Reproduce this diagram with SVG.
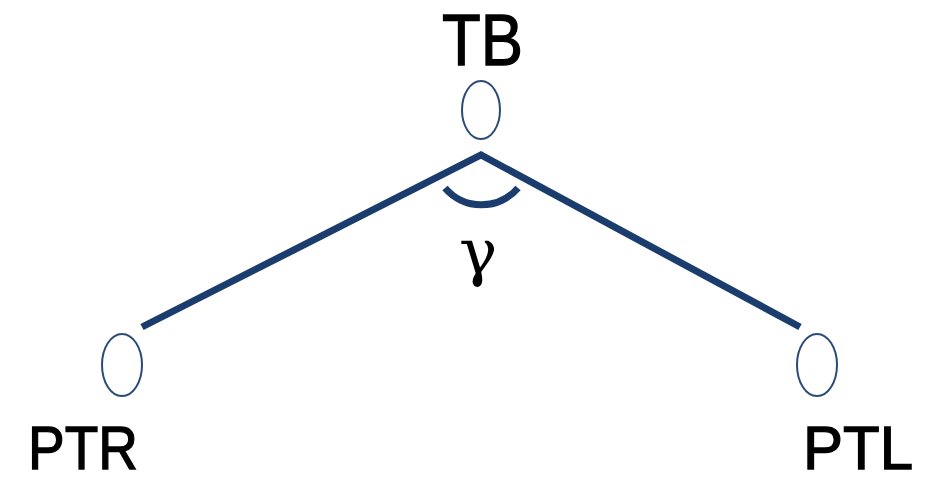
<svg xmlns="http://www.w3.org/2000/svg" width="931" height="482" viewBox="0 0 931 482">
<style>
.node{fill:none;stroke:#2a4a78;stroke-width:2}
.lbl{font-family:"Liberation Sans",Arial,sans-serif;fill:#000;stroke:#000;stroke-width:1.3}
.greek{font-family:"DejaVu Serif","Liberation Serif",serif;fill:#000}
.edge{stroke:#1b3d6e;stroke-width:7;fill:none;stroke-linecap:butt}
</style>
<rect width="931" height="482" fill="#fff"/>
<g id="connectors">
<polyline class="edge" points="142,327 481,155 800,327" stroke-linejoin="miter"/>
<path class="edge" d="M445,188 A48,48 0 0 0 518,188" stroke-width="6"/>
</g>
<text class="greek" x="478" y="274" font-size="64" text-anchor="middle">γ</text>
<g id="TB">
<ellipse class="node" cx="481" cy="110" rx="19" ry="29"/>
<text class="lbl" x="442" y="65" font-size="73" textLength="81" lengthAdjust="spacingAndGlyphs">TB</text>
</g>
<g id="PTR">
<ellipse class="node" cx="122" cy="365" rx="20" ry="31"/>
<text class="lbl" x="28" y="469" font-size="62" textLength="110" lengthAdjust="spacingAndGlyphs">PTR</text>
</g>
<g id="PTL">
<ellipse class="node" cx="817" cy="365" rx="20" ry="31"/>
<text class="lbl" x="803" y="469" font-size="62" textLength="110" lengthAdjust="spacingAndGlyphs">PTL</text>
</g>
</svg>
